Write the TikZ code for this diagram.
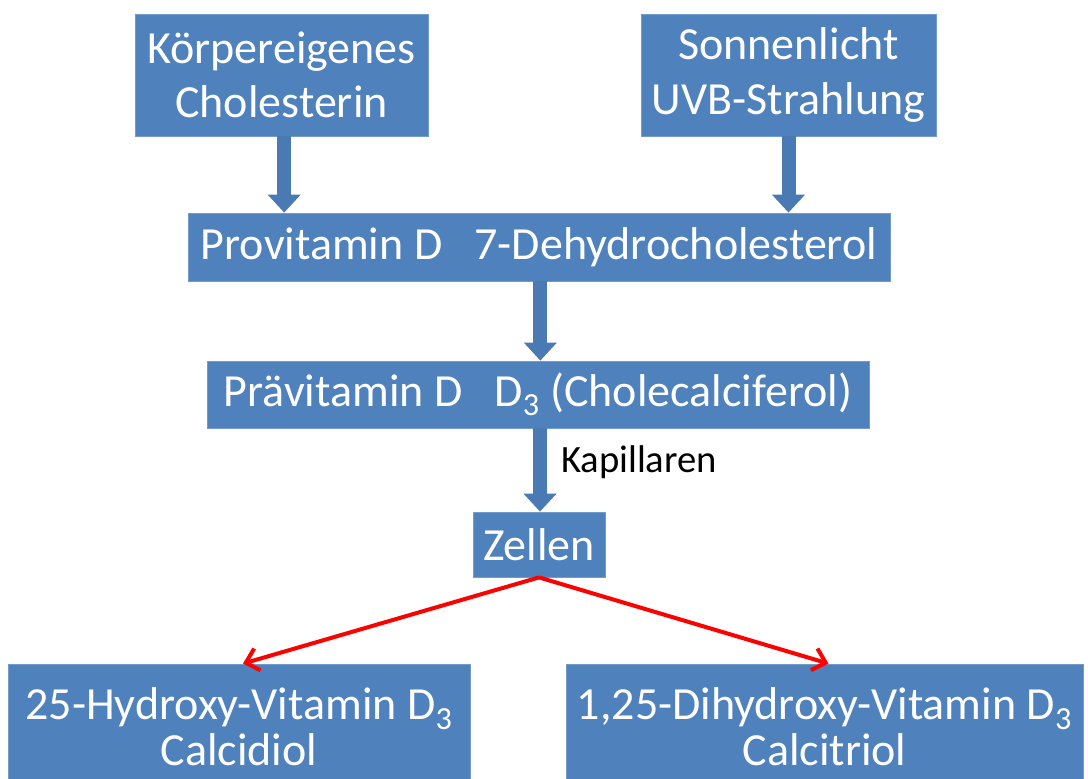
\documentclass[tikz,border=0pt]{standalone}
\usepackage{fontspec}
\setmainfont{Carlito}
\usetikzlibrary{arrows.meta}
\definecolor{boxblue}{HTML}{4F81BD}
\definecolor{arrowblue}{HTML}{4A7AB4}
\begin{document}
\begin{tikzpicture}[x=0.75pt,y=-0.75pt,
    box/.style={fill=boxblue, draw=boxblue!80!white, line width=0.6pt, text=white, align=center, inner sep=0pt, font=\fontsize{34.5}{41}\selectfont},
    blockarrow/.style={draw=arrowblue, line width=10.5pt, -{Triangle[length=13.5pt,width=24pt]}},
    redarrow/.style={draw=red, line width=3pt, -{Straight Barb[length=9pt,width=17pt]}}]
    \useasboundingbox (0,0) rectangle (1088,778);
    \clip (0,0) rectangle (1088,778);
    \node[box, minimum width=219.75pt, minimum height=91.5pt] (chol) at (281.5,75) {Körpereigenes\\Cholesterin};
    \node[box, minimum width=221.25pt, minimum height=91.5pt] (sonne) at (788.5,75) {Sonnenlicht\\UVB-Strahlung};
    \node[box, minimum width=526.5pt, minimum height=51pt] (prov) at (539,247) {Provitamin D\hspace{0.7em}7-Dehydrocholesterol};
    \node[box, minimum width=496.5pt, minimum height=50.25pt] (praev) at (538,394.5) {Prävitamin D\hspace{0.7em}D\textsubscript{3} (Cholecalciferol)};
    \node[box, minimum width=99pt, minimum height=48.75pt] (zellen) at (539,544.5) {Zellen};
    \node[box, font=\fontsize{34.5}{34.5}\selectfont, minimum width=346.5pt, minimum height=94.5pt] (calcidiol) at (239,727) {25-Hydroxy-Vitamin D\textsubscript{3}\\Calcidiol};
    \node[box, font=\fontsize{34.5}{34.5}\selectfont, minimum width=387.75pt, minimum height=94.5pt] (calcitriol) at (824.5,727) {1,25-Dihydroxy-Vitamin D\textsubscript{3}\\Calcitriol};
    \node[font=\fontsize{29}{34}\selectfont] (kap) at (639,462) {Kapillaren};
    \draw[blockarrow] ([xshift=2pt]chol.south) -- ([xshift=2pt]chol.south |- prov.north);
    \draw[blockarrow] (sonne.south) -- (sonne.south |- prov.north);
    \draw[blockarrow] ([xshift=1pt]prov.south) -- ([xshift=1pt]prov.south |- praev.north);
    \draw[blockarrow] ([xshift=1.5pt]praev.south) -- ([xshift=1.5pt]praev.south |- zellen.north);
    \draw[redarrow] (zellen.south) -- ([xshift=3pt]calcidiol.north);
    \draw[redarrow] (zellen.south) -- ([xshift=3pt]calcitriol.north);
\end{tikzpicture}
\end{document}
